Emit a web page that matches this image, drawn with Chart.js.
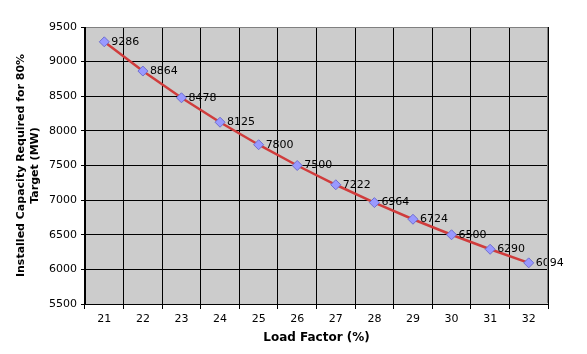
<!DOCTYPE html>
<html>
<head>
<meta charset="utf-8">
<script src="https://cdn.jsdelivr.net/npm/chart.js@4"></script>
<style>
  html, body { margin: 0; padding: 0; background: #fff; }
  #wrap { width: 587px; height: 354px; }
</style>
</head>
<body>
<div id="wrap"><canvas id="capacityChart" width="587" height="354"></canvas></div>
<script>
// Data
const loadFactors = ["21", "22", "23", "24", "25", "26", "27", "28", "29", "30", "31", "32"];
const capacityMW = [9286, 8864, 8478, 8125, 7800, 7500, 7222, 6964, 6724, 6500, 6290, 6094];
const yTicks = [5500, 6000, 6500, 7000, 7500, 8000, 8500, 9000, 9500];

const FONT = "'DejaVu Sans', Verdana, sans-serif";

// Grey plot area + grey top/right frame, like the old Excel look
const plotArea = {
  id: "plotArea",
  beforeDraw(chart) {
    const { ctx, chartArea: a } = chart;
    ctx.save();
    ctx.fillStyle = "#cccccc";
    ctx.fillRect(a.left, a.top, a.right - a.left, a.bottom - a.top);
    ctx.restore();
  },
  afterDraw(chart) {
    const { ctx, chartArea: a } = chart;
    ctx.save();
    ctx.strokeStyle = "#808080";
    ctx.lineWidth = 1;
    ctx.beginPath();
    ctx.moveTo(a.left + 1, a.top + 0.5);
    ctx.lineTo(a.right - 0.5, a.top + 0.5);
    ctx.lineTo(a.right - 0.5, a.bottom - 1);
    ctx.stroke();
    ctx.restore();
  }
};

// Value labels to the right of each point
const valueLabels = {
  id: "valueLabels",
  afterDatasetsDraw(chart) {
    const { ctx } = chart;
    const meta = chart.getDatasetMeta(0);
    ctx.save();
    ctx.font = "11px " + FONT;
    ctx.fillStyle = "#000";
    ctx.textAlign = "left";
    ctx.textBaseline = "middle";
    meta.data.forEach((pt, i) => {
      ctx.fillText(String(capacityMW[i]), pt.x + 7, pt.y);
    });
    ctx.restore();
  }
};

new Chart(document.getElementById("capacityChart").getContext("2d"), {
  type: "line",
  data: {
    labels: loadFactors,
    datasets: [{
      data: capacityMW,
      borderColor: "#d03c3c",
      borderWidth: 2.5,
      tension: 0,
      pointStyle: "rectRot",
      pointRadius: 5,
      pointHoverRadius: 5,
      pointBackgroundColor: "#9999ff",
      pointBorderColor: "#6f6fd0",
      pointBorderWidth: 1
    }]
  },
  options: {
    responsive: false,
    animation: false,
    events: [],
    layout: { padding: { left: 0, top: 27, right: 39, bottom: 0 } },
    plugins: {
      legend: { display: false },
      tooltip: { enabled: false }
    },
    scales: {
      x: {
        offset: true,
        grid: { offset: true, color: "#000", lineWidth: 1, tickLength: 5, drawTicks: true },
        border: { color: "#000", width: 1 },
        ticks: { color: "#000", font: { family: FONT, size: 11 }, padding: 4, maxRotation: 0 },
        title: {
          display: true,
          text: "Load Factor (%)",
          color: "#000",
          font: { family: FONT, size: 12, weight: "bold" },
          padding: { top: 0, bottom: 9 }
        },
        afterFit(scale) { scale.height = 50; }
      },
      y: {
        min: 5500,
        max: 9500,
        afterBuildTicks(scale) { scale.ticks = yTicks.map(v => ({ value: v })); },
        grid: { color: "#000", lineWidth: 1, tickLength: 4 },
        border: { color: "#000", width: 1 },
        ticks: {
          color: "#000",
          font: { family: FONT, size: 11 },
          padding: 4,
          callback: v => String(v)
        },
        title: {
          display: true,
          text: ["Installed Capacity Required for 80%", "Target (MW)"],
          color: "#000",
          font: { family: FONT, size: 11, weight: "bold" },
          padding: { top: 15, bottom: 0 }
        },
        afterFit(scale) { scale.width = 85; }
      }
    }
  },
  plugins: [plotArea, valueLabels]
});
</script>
</body>
</html>
